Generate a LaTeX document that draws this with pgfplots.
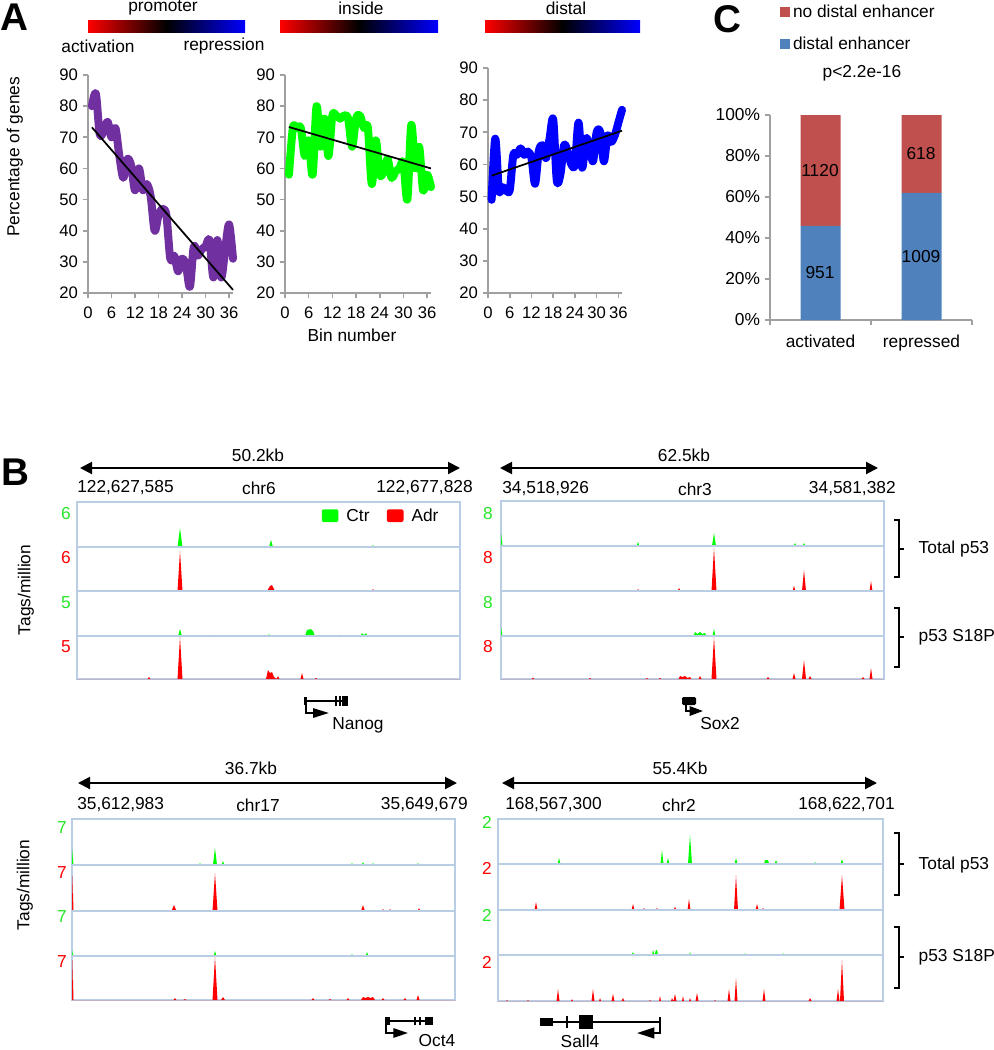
\documentclass[border=0pt]{standalone}
\usepackage{fontspec}
\setmainfont{Liberation Sans}
\usepackage{pgfplots}
\pgfplotsset{compat=1.18}
\usetikzlibrary{arrows.meta}
\definecolor{apurple}{HTML}{7030A0}
\definecolor{agreen}{HTML}{00FF00}
\definecolor{ablue}{HTML}{0000FF}
\definecolor{cred}{HTML}{C0504D}
\definecolor{cblue}{HTML}{4F81BD}
\definecolor{axgray}{HTML}{A0A0A0}
\definecolor{boxblue}{RGB}{185,205,229}
\definecolor{tgreen}{RGB}{40,230,40}
\pgfplotsset{
 every axis/.append style={/pgf/number format/assume math mode=true},
 lineA/.style={scale only axis, anchor=south west, axis x line*=bottom, axis y line*=left,
   axis line style={draw=axgray, line width=1.5pt}, tick align=outside, major tick length=4pt,
   tick style={draw=axgray, line width=1.2pt}, xmin=0, xmax=37, ymin=20, ymax=90,
   xtick={0,6,...,36}, ytick={20,30,...,90},
   tick label style={font=\fontsize{12.5}{14}\selectfont},
   xticklabel style={yshift=-3pt}, clip=false},
 trk/.style={x=0.75pt, y=0.75pt, anchor=south west, ymin=0, ticks=none,
   axis line style={draw=boxblue, line width=1.5pt}},
}
% [opts] left right height bottom color coords
\newcommand\trk[7][]{%
\begin{axis}[trk, at={({#2*0.75pt},{-#5*0.75pt})}, xmin=#2, xmax=#3, ymax=#4, #1]
\addplot[fill=#6, draw=none, forget plot] coordinates {#7} \closedcycle;
\end{axis}}
\begin{document}
\begin{tikzpicture}[x=0.75pt,y=-0.75pt,font=\fontsize{13}{15}\selectfont]
\path[use as bounding box] (0,0) rectangle (993,1050);
% ---------------- Panel A ----------------
\node[font=\fontsize{29}{30}\bfseries\selectfont] at (14,17) {A};
\node at (163,8) {promoter};
\node at (361,8) {inside};
\node at (566,8) {distal};
\shade[left color=red, right color=blue, middle color=black] (88,20) rectangle (245,32);
\shade[left color=red, right color=blue, middle color=black] (280,20) rectangle (438,32);
\shade[left color=red, right color=blue, middle color=black] (485,20) rectangle (640,32);
\node at (98,46) {activation};
\node at (224,46) {repression};
\node[rotate=90] at (15,157) {Percentage of genes};
\node at (352,335) {Bin number};

\begin{axis}[lineA, at={({88*0.75pt},{-293*0.75pt})}, width=108.75pt, height=163.5pt]
\addplot[apurple, line width=6pt, smooth, line join=round, line cap=round] coordinates {
(1,80)(2,84)(3,71)(4,72)(5,75)(6,70)(7,73)(8,64)(9,57)(10,63)(11,61)(12,53)(13,60)(14,53)(15,55)(16,51)(17,40)(18,45)(19,47)(20,45)(21,31)(22,32)(23,27)(24,31)(25,29)(26,22)(27,35)(28,32)(29,34)(30,35)(31,37)(32,25)(33,37)(34,25)(35,34)(36,42)(37,31)};
\addplot[black, line width=1.3pt] coordinates {(1,73.2)(37,21)};
\end{axis}

\begin{axis}[lineA, at={({285*0.75pt},{-293*0.75pt})}, width=109.5pt, height=163.5pt]
\addplot[agreen, line width=6pt, smooth, line join=round, line cap=round] coordinates {
(1,58)(2,73)(3,73)(4,73)(5,64)(6,69)(7,58)(8,80)(9,67)(10,76)(11,64)(12,77)(13,77)(14,76)(15,77)(16,76)(17,67)(18,76)(19,77)(20,73)(21,73)(22,55)(23,69)(24,58)(25,59)(26,63)(27,57)(28,59)(29,60)(30,62)(31,50)(32,74)(33,60)(34,67)(35,53)(36,58)(37,54)};
\addplot[black, line width=1.3pt] coordinates {(1,73.3)(37,60)};
\end{axis}

\begin{axis}[lineA, at={({488*0.75pt},{-293*0.75pt})}, width=100.5pt, height=168.75pt]
\addplot[ablue, line width=6pt, smooth, line join=round, line cap=round] coordinates {
(1,49)(2,68)(3,52)(4,53)(5,52)(6,52)(7,63)(8,63)(9,65)(10,63)(11,64)(12,62)(13,54)(14,64)(15,66)(16,62)(17,68)(18,74)(19,55)(20,57)(21,66)(22,64)(23,60)(24,60)(25,73)(26,59)(27,68)(28,66)(29,61)(30,70)(31,70)(32,61)(33,69)(34,67)(35,69)(36,73)(37,77)};
\addplot[black, line width=1.3pt] coordinates {(1,56.5)(37,70.5)};
\end{axis}

% ---------------- Panel C ----------------
\node[font=\fontsize{29}{30}\bfseries\selectfont] at (727,19) {C};
\node at (862,73) {p<2.2e-16};
\begin{axis}[at={({770*0.75pt},{-320*0.75pt})}, anchor=south west, scale only axis, width=151.5pt, height=153.75pt,
  ybar stacked, bar width=30pt, xmin=0.5, xmax=2.5, ymin=0, ymax=100,
  axis x line*=bottom, axis y line*=left, axis line style={draw=axgray, line width=1.2pt},
  tick align=outside, major tick length=4pt, tick style={draw=axgray, line width=1.2pt},
  xtick={0.5,1.5,2.5}, xticklabels={}, ytick={0,20,...,100},
  yticklabel={\pgfmathprintnumber{\tick}\%},
  tick label style={font=\fontsize{13}{15}\selectfont},
  reverse legend, legend cell align=left,
  legend style={at={(0.03,1.565)}, anchor=north west, draw=none, fill=none, row sep=9pt,
    font=\fontsize{13}{15}\selectfont},
  legend image code/.code={\path[#1] (0pt,-3.6pt) rectangle (7.5pt,3.9pt);},
  clip=false]
\addplot[fill=cblue, draw=none] coordinates {(1,45.9)(2,62.0)};
\addlegendentry{distal enhancer}
\addplot[fill=cred, draw=none] coordinates {(1,54.1)(2,38.0)};
\addlegendentry{no distal enhancer}
\node[anchor=north] at (axis cs:1,-5) {activated};
\node[anchor=north] at (axis cs:2,-5) {repressed};
\end{axis}
\node at (820,273) {951};
\node at (820,171) {1120};
\node at (921,257) {1009};
\node at (921,154) {618};

% ---------------- Panel B ----------------
\node[font=\fontsize{29}{30}\bfseries\selectfont] at (15,472) {B};
\tikzset{dbl/.style={line width=1.5pt, {Triangle[length=9pt,width=9pt]}-{Triangle[length=9pt,width=9pt]}}}
% headers
\node at (258,455) {50.2kb};
\draw[dbl] (80,468)--(460,468);
\node[anchor=west, inner sep=0] at (77,488) {122,627,585};
\node at (259,488) {chr6};
\node[anchor=east, inner sep=0] at (473,488) {122,677,828};

\node at (684,455) {62.5kb};
\draw[dbl] (500,468)--(878,468);
\node[anchor=west, inner sep=0] at (502,489) {34,518,926};
\node at (695,489) {chr3};
\node[anchor=east, inner sep=0] at (896,489) {34,581,382};

\node at (251,768) {36.7kb};
\draw[dbl] (78,783)--(457,783);
\node[anchor=west, inner sep=0] at (77,805) {35,612,983};
\node at (258,805) {chr17};
\node[anchor=east, inner sep=0] at (468,805) {35,649,679};

\node at (680,768) {55.4Kb};
\draw[dbl] (502,783)--(877,783);
\node[anchor=west, inner sep=0] at (505,805) {168,567,300};
\node at (679,805) {chr2};
\node[anchor=east, inner sep=0] at (895,805) {168,622,701};

\node[rotate=90] at (26,590) {Tags/million};
\node[rotate=90] at (25,885) {Tags/million};

% track scale numbers
\foreach \yy/\cc/\tt in {514/tgreen/6,558/red/6,603/tgreen/5,647/red/5}{\node[text=\cc] at (66,\yy) {\tt};}
\foreach \yy/\cc in {514/tgreen,558/red,603/tgreen,647/red}{\node[text=\cc] at (488,\yy) {8};}
\foreach \yy/\cc in {828/tgreen,873/red,917/tgreen,962/red}{\node[text=\cc] at (62,\yy) {7};}
\foreach \yy/\cc in {822/tgreen,868/red,915/tgreen,962/red}{\node[text=\cc] at (487,\yy) {2};}

% brackets
\foreach \a/\b/\m in {520/577/549,608/667/637,833/895/864,927/988/957}{
 \draw[line width=1.6pt] (894,\a)--(899,\a)--(899,\b)--(894,\b);
 \draw[line width=1.6pt] (899,\m)--(904,\m);}
\node[anchor=west] at (914,549) {Total p53};
\node[anchor=west] at (914,637) {p53 S18P};
\node[anchor=west] at (914,865) {Total p53};
\node[anchor=west] at (914,957) {p53 S18P};

% ---- Nanog block ----
\begin{axis}[trk, at={({77*0.75pt},{-547*0.75pt})}, xmin=77, xmax=460, ymax=45,
  legend columns=2,
  legend style={at={(0.962,0.975)}, anchor=north east, draw=none, fill=none,
    /tikz/every odd column/.append style={column sep=4pt},
    /tikz/every even column/.append style={column sep=11pt}, font=\fontsize{13}{15}\selectfont},
  legend image code/.code={\path[#1, rounded corners=1.5pt] (0pt,-4.5pt) rectangle (12.5pt,5pt);}]
\addplot[fill=agreen, draw=none, forget plot] coordinates {(77,0)(177.5,0)(180,19)(182.5,0)(269,0)(271,7)(273,0)(305.5,0)(307,1)(308.5,0)(371.5,0)(373,2)(374.5,0)(460,0)} \closedcycle;
\addlegendimage{fill=agreen, draw=none}
\addlegendentry{Ctr}
\addlegendimage{fill=red, draw=none}
\addlegendentry{Adr}
\end{axis}
\trk{77}{460}{44}{591}{red}{(77,0)(177.5,0)(180,40)(182.5,0)(267,0)(270,5)(272,6)(275,0)(305.5,0)(307,1)(308.5,0)(333.5,0)(335,1)(336.5,0)(371.5,0)(373,2)(374.5,0)(460,0)}
\trk{77}{460}{45}{636}{agreen}{(77,0)(178,0)(180,7)(182,0)(211.5,0)(213,1.5)(214.5,0)(245.5,0)(247,1)(248.5,0)(267.5,0)(269,2)(270.5,0)(305,0)(307,6)(311,7)(313,5)(315,0)(322.5,0)(324,1)(325.5,0)(338.5,0)(340,1.5)(341.5,0)(360.5,0)(362,3)(364,1)(366,3)(367.5,0)(460,0)}
\trk{77}{460}{43}{679}{red}{(77,0)(147.5,0)(149,2)(150.5,0)(177.5,0)(180,42)(182.5,0)(266,0)(268,9)(270,6)(272,7)(274,2)(276.5,0)(278,3)(279.5,0)(300.5,0)(302,6)(303.5,0)(314.5,0)(316,1)(317.5,0)(460,0)}

% ---- Sox2 block ----
\trk{501}{884}{45}{546}{agreen}{(501,0)(501.5,12)(502.5,0)(611.5,0)(613,1)(614.5,0)(636.5,0)(638,4)(639.5,0)(682.5,0)(684,1)(685.5,0)(712,0)(714,13)(716,0)(763.5,0)(765,1)(766.5,0)(793.5,0)(795,3)(796.5,0)(802.5,0)(804,3)(805.5,0)(818.5,0)(820,1)(821.5,0)(884,0)}
\trk{501}{884}{45}{591}{red}{(501,0)(636.5,0)(638,2)(639.5,0)(677.5,0)(679,3)(680.5,0)(692.5,0)(694,1)(695.5,0)(711.5,0)(714,43)(716.5,0)(792.5,0)(794,5)(795.5,0)(802,0)(804,21)(806,0)(869.5,0)(871,10)(872.5,0)(884,0)}
\trk{501}{884}{45}{636}{agreen}{(501,0)(501.5,8)(502.5,0)(660.5,0)(662,1)(663.5,0)(693.5,0)(695,4)(697.5,2)(700,4)(702.5,2)(705,3)(706.5,0)(712.5,0)(714,7)(715.5,0)(728.5,0)(730,1)(731.5,0)(884,0)}
\trk{501}{884}{43}{679}{red}{(501,0)(531.5,0)(533,1.5)(534.5,0)(588.5,0)(590,1)(591.5,0)(645.5,0)(647,1)(648.5,0)(658.5,0)(660,1)(661.5,0)(678.5,0)(680,3)(682.5,2)(685,3)(687.5,1)(690,2)(691.5,0)(698.5,0)(700,3)(701.5,0)(711.5,0)(714,42)(716.5,0)(766.5,0)(768,2)(769.5,0)(792.5,0)(794,6)(795.5,0)(802,0)(804,19)(806,0)(808.5,0)(810,3)(811.5,0)(861.5,0)(863,2)(864.5,0)(869.5,0)(871,11)(872.5,0)(884,0)}

% ---- Oct4 block ----
\trk{72}{455}{46}{865}{agreen}{(72,0)(72.5,15)(73.5,0)(173.5,0)(175,1)(176.5,0)(183.5,0)(185,1)(186.5,0)(198.5,0)(200,2)(201.5,0)(213,0)(215,17)(217,0)(221.5,0)(223,4)(224.5,0)(311.5,0)(313,1)(314.5,0)(350.5,0)(352,2)(353.5,0)(361.5,0)(363,3)(364.5,0)(371.5,0)(373,2)(374.5,0)(416.5,0)(418,2)(419.5,0)(455,0)}
\trk{72}{455}{46}{911}{red}{(72,0)(72.5,35)(73.5,0)(171.5,0)(174,6)(176.5,0)(212.5,0)(215,38)(217.5,0)(222.5,0)(224,1)(225.5,0)(361,0)(363,6)(365,0)(381.5,0)(383,2)(384.5,0)(388.5,0)(390,2)(391.5,0)(417.5,0)(419,3)(420.5,0)(455,0)}
\trk{72}{455}{45}{956}{agreen}{(72,0)(72.5,5)(73.5,0)(213.5,0)(215,5)(216.5,0)(350.5,0)(352,2)(353.5,0)(365.5,0)(367,4)(368.5,0)(418.5,0)(420,1)(421.5,0)(455,0)}
\trk{72}{455}{44}{1000}{red}{(72,0)(72.5,40)(73.5,0)(173.5,0)(175,2)(176.5,0)(183.5,0)(185,1)(186.5,0)(212.5,0)(215,43)(217.5,0)(221,0)(223,3)(225,0)(311.5,0)(313,2)(314.5,0)(328.5,0)(330,1)(331.5,0)(346.5,0)(348,2)(349.5,0)(361,0)(363,3)(365.5,2)(368,3)(370.5,2)(373,3)(375,0)(381.5,0)(383,2)(384.5,0)(403.5,0)(405,2)(406.5,0)(416.5,0)(418,5)(419.5,0)(455,0)}

% ---- Sall4 block ----
\trk{498}{883}{45}{864}{agreen}{(498,0)(503.5,0)(505,1)(506.5,0)(518.5,0)(520,1)(521.5,0)(533.5,0)(535,1)(536.5,0)(557.5,0)(559,6)(560.5,0)(570.5,0)(572,1)(573.5,0)(641.5,0)(643,1)(644.5,0)(655.5,0)(657,1)(658.5,0)(660.5,0)(662,14)(663.5,0)(666.5,0)(668,6)(669.5,0)(688,0)(690,29)(692,0)(734.5,0)(736,6)(737.5,0)(764,0)(765,4)(768,4)(769,0)(774.5,0)(776,4)(777.5,0)(813.5,0)(815,2)(816.5,0)(840.5,0)(842,5)(843.5,0)(883,0)}
\trk{498}{883}{46}{910}{red}{(498,0)(534.5,0)(536,8)(537.5,0)(551.5,0)(553,1)(554.5,0)(631.5,0)(633,6)(634.5,0)(642.5,0)(644,2)(645.5,0)(655.5,0)(657,2)(658.5,0)(673.5,0)(675,3)(676.5,0)(687.5,0)(689,11)(690.5,0)(734,0)(736,35)(738,0)(755.5,0)(757,6)(758.5,0)(761.5,0)(763,2)(764.5,0)(839.5,0)(842,35)(844.5,0)(883,0)}
\trk{498}{883}{45}{955}{agreen}{(498,0)(631.5,0)(633,3)(634.5,0)(643.5,0)(645,1)(646.5,0)(652,0)(653,5)(654.5,0)(656,5)(657,5)(658,0)(689,0)(690,3)(691,0)(744,0)(745,2)(746,0)(782,0)(783,2)(784,0)(883,0)}
\trk{498}{883}{46}{1001}{red}{(498,0)(506,0)(507,1)(508,0)(527,0)(528,1)(529,0)(556.5,0)(558,12)(559.5,0)(571,0)(572,2)(573,0)(591.5,0)(593,12)(594.5,0)(599,0)(600,3)(601,0)(611.5,0)(613,7)(614.5,0)(621.5,0)(623,3)(624.5,0)(649,0)(650,1)(651,0)(659,0)(660,5)(661,0)(671,0)(672,3)(673.5,0)(675,7)(676.5,0)(682,0)(683,5)(684,0)(689,0)(690,3)(691,0)(695.5,0)(697,8)(698.5,0)(714,0)(715,1)(716,0)(727.5,0)(729,12)(730.5,0)(734.5,0)(736,23)(737.5,0)(762.5,0)(764,12)(765.5,0)(808.5,0)(810,3)(811.5,0)(836.5,0)(838,12)(839.5,0)(840,0)(842,41)(844,0)(883,0)}

% ---- gene models ----
\draw[line width=1.5pt] (305,701)--(348,701);
\fill (304,697) rectangle (307,705);
\fill (334.5,696) rectangle (336.5,706);
\fill (338.5,696) rectangle (340.5,706);
\fill (342,696) rectangle (348,706);
\draw[line width=1.5pt,-{Triangle[length=12pt,width=7pt]}] (306,701)--(306,713)--(329,713);
\node at (358,725) {Nanog};

\fill[rounded corners=1pt] (682,697) rectangle (696,705);
\draw[line width=1.5pt,-{Triangle[length=10pt,width=7pt]}] (686,704)--(686,711)--(703,711);
\node at (720,724) {Sox2};

\draw[line width=1.5pt] (387,1021)--(433,1021);
\fill (385,1017) rectangle (390,1025);
\fill (414,1017) rectangle (416,1025);
\fill (419,1017) rectangle (421,1025);
\fill (425,1017) rectangle (433,1025);
\draw[line width=1.5pt,-{Triangle[length=11pt,width=7pt]}] (386,1021)--(386,1033)--(408,1033);
\node at (437,1041) {Oct4};

\draw[line width=1.5pt] (540,1022)--(660,1022);
\fill (540,1018) rectangle (553,1026);
\fill (566,1016) rectangle (568,1028);
\fill (579,1015) rectangle (593,1029);
\draw[line width=1.5pt,-{Triangle[length=13pt,width=8pt]}] (660,1017)--(660,1033)--(637,1033);
\node at (580,1041) {Sall4};
\end{tikzpicture}
\end{document}
